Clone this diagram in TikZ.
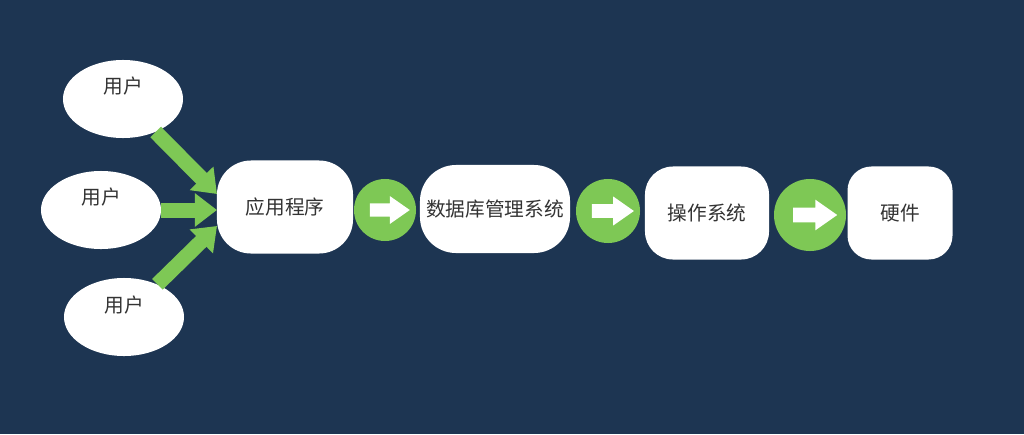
\documentclass[tikz,border=0pt]{standalone}
\usepackage{fontspec}
\setmainfont{Noto Sans CJK SC}
\usepackage{tikz}
\usetikzlibrary{positioning}
\usetikzlibrary{shapes.geometric,shapes.arrows,arrows.meta}
\definecolor{bg}{HTML}{1D3552}
\definecolor{grn}{HTML}{7EC855}
\definecolor{txt}{HTML}{333333}
\tikzset{
 userbox/.style={ellipse,fill=white,minimum width=3cm,minimum height=1.95cm,inner sep=0pt},
 usertext/.style={text=txt,font=\fontsize{14pt}{16pt}\selectfont},
 layerbox/.style={rectangle,fill=white,minimum height=2.325cm,inner sep=0pt,text=txt,font=\fontsize{14pt}{16pt}\selectfont},
 flowdot/.style={circle,fill=grn,inner sep=0pt},
 flowarrow/.style={single arrow,fill=white,inner xsep=0pt,inner ysep=0.175cm,text height=0pt,text depth=0pt,minimum height=1.1cm,single arrow head extend=0.2cm,single arrow tip angle=70},
 fat/.style={grn,line width=0.375cm,-{Triangle[length=0.55cm,width=0.8cm]}}
}

\begin{document}
\begin{tikzpicture}[x=0.025cm,y=-0.025cm]
 \fill[bg](0,0) rectangle (1024,434); 
 \useasboundingbox (0,0) rectangle (1024,434); 
 \node[userbox,label={[usertext,yshift=0.325cm]center:用户}](u1) at (123,99) {}; 
 \node[userbox,label={[usertext,yshift=0.325cm]center:用户}](u2) at (101,210) {}; 
 \node[userbox,label={[usertext,yshift=0.3cm]center:用户}](u3) at (124,317) {}; 
 \node[layerbox,minimum width=3.4cm,rounded corners=0.85cm](app) at (285,207) {应用程序}; 
 \node[layerbox,minimum width=3.75cm,minimum height=2.2cm,rounded corners=0.9cm](dbms) at (495,209) {数据库管理系统}; 
 \node[layerbox,minimum width=3.1cm,rounded corners=0.7cm](os) at (707,213) {操作系统}; 
 \node[layerbox,minimum width=2.625cm,rounded corners=0.6cm](hw) at (900,213) {硬件}; 
 \node[flowdot,minimum size=1.55cm](c1) at (385,210) {}; 
 \node[flowdot,minimum size=1.6cm](c2) at (608,211) {}; 
 \node[flowdot,minimum size=1.8cm](c3) at (810,215) {}; 
 \node[flowarrow,minimum height=1cm,inner ysep=0.16cm,single arrow head extend=0.18cm](a1) at (c1) {}; 
 \node[flowarrow,minimum height=1.05cm,inner ysep=0.165cm,single arrow head extend=0.19cm](a2) at (c2) {}; 
 \node[flowarrow](a3) at (c3) {}; 
 \coordinate (in1) at (217,194); 
 \coordinate (in2) at (217,210); 
 \coordinate (in3) at (217,226); 
 \draw[fat](u1)--(in1); 
 \draw[fat](u2)--(in2); 
 \draw[fat](u3)--(in3); 
\end{tikzpicture}
\end{document}
